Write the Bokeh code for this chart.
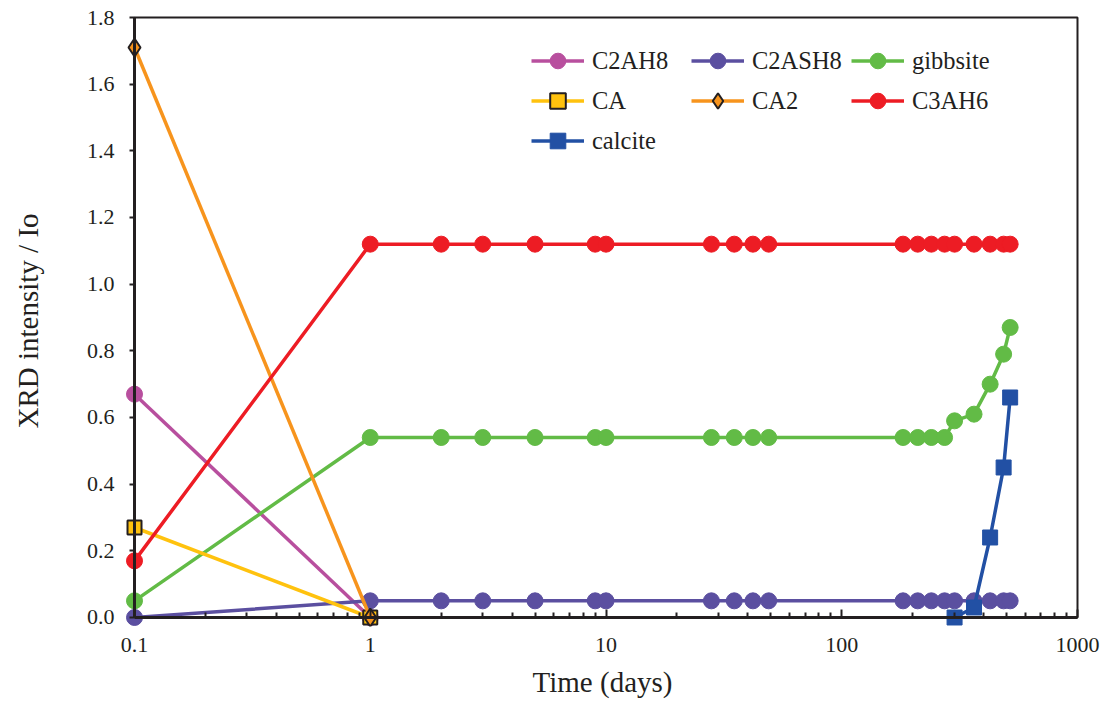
from bokeh.plotting import figure
from bokeh.models import (Legend, LegendItem, FixedTicker, Range1d, BoxAnnotation,
                          LogAxis, LinearAxis)
from bokeh.embed import file_html
from bokeh.resources import INLINE

# ---- data ----
t_early = [0.1, 1]
t_all = [1, 2, 3, 5, 9, 10, 28, 35, 42, 49, 182, 210, 240, 273, 301, 364, 426, 486, 518]
t_full = [0.1] + t_all
t_calcite = [301, 364, 426, 486, 518]

c2ah8 = [0.67, 0.0]
ca = [0.27, 0.0]
ca2 = [1.71, 0.0]
c2ash8 = [0.0] + [0.05] * 19
gibbsite = [0.05, 0.54, 0.54, 0.54, 0.54, 0.54, 0.54, 0.54, 0.54, 0.54, 0.54,
            0.54, 0.54, 0.54, 0.54, 0.59, 0.61, 0.70, 0.79, 0.87]
c3ah6 = [0.17] + [1.12] * 19
calcite = [0.0, 0.03, 0.24, 0.45, 0.66]

x_ticks = [0.1, 1, 10, 100, 1000]
x_tick_labels = ["0.1", "1", "10", "100", "1000"]
y_ticks = [0.0, 0.2, 0.4, 0.6, 0.8, 1.0, 1.2, 1.4, 1.6, 1.8]

FONT = "Liberation Serif"
INK = "#231F20"

# layout: small padding around the data box so edge markers are not clipped
DEC = 235.6          # px per decade
YPX = 333.3          # px per unit
PAD_L, PAD_B, PAD_R, PAD_T = 9, 9, 2, 2
x0 = 10 ** (-1 - PAD_L / DEC)
x1 = 10 ** (3 + PAD_R / DEC)
y0 = 0 - PAD_B / YPX
y1 = 1.8 + PAD_T / YPX

p = figure(width=1104, height=704, x_axis_type="log",
           x_range=Range1d(x0, x1), y_range=Range1d(y0, y1),
           output_backend="svg", toolbar_location=None,
           min_border_left=125, min_border_right=25,
           min_border_top=15, min_border_bottom=78)
p.xgrid.visible = False
p.ygrid.visible = False
p.outline_line_color = None

minor = [d * k for d in x_ticks[:-1] for k in range(2, 10)]
x_ticker = FixedTicker(ticks=x_ticks, minor_ticks=minor)
y_ticker = FixedTicker(ticks=y_ticks)

# default side axes: labels and titles only
p.xaxis.ticker = x_ticker
p.xaxis.major_label_overrides = {v: s for v, s in zip(x_ticks, x_tick_labels)}
p.yaxis.ticker = y_ticker
p.yaxis.major_label_overrides = {v: f"{v:.1f}" for v in y_ticks}
for ax in (p.xaxis, p.yaxis):
    ax.axis_line_color = INK
    ax.axis_line_alpha = 0
    ax.major_tick_line_color = INK
    ax.major_tick_line_alpha = 0
    ax.minor_tick_line_color = INK
    ax.minor_tick_line_alpha = 0
    ax.major_tick_in = 0
    ax.major_tick_out = 0
    ax.minor_tick_in = 0
    ax.minor_tick_out = 0
    ax.major_label_text_font = FONT
    ax.major_label_text_font_size = "22px"
    ax.major_label_text_color = INK
    ax.axis_label_text_font = FONT
    ax.axis_label_text_font_size = "29px"
    ax.axis_label_text_font_style = "normal"
    ax.axis_label_text_color = INK
p.xaxis.major_label_standoff = 11
p.xaxis.axis_label = "Time (days)"
p.xaxis.axis_label_standoff = 11
p.yaxis.major_label_standoff = 11
p.yaxis.axis_label = "XRD intensity / Io"
p.yaxis.axis_label_standoff = 40

# axis rules and ticks placed exactly at x=0.1 and y=0 (labels not drawn)
rule_kw = dict(axis_line_color=INK, axis_line_width=3,
               major_tick_line_color=INK, major_tick_line_width=2,
               major_label_text_font=FONT, major_label_text_font_size="2px",
               major_label_text_color=None, major_label_standoff=0,
               axis_label_text_font=FONT)
rule_x = LogAxis(fixed_location=0, bounds=(0.1, 1000), ticker=x_ticker,
                 minor_tick_line_color=INK, minor_tick_line_width=2,
                 major_tick_in=8, major_tick_out=0,
                 minor_tick_in=5, minor_tick_out=0, **rule_kw)
rule_y = LinearAxis(fixed_location=0.1, bounds=(0, 1.8), ticker=y_ticker,
                    minor_tick_line_color=None,
                    major_tick_in=0, major_tick_out=5, **rule_kw)
p.add_layout(rule_x, "below")
p.add_layout(rule_y, "left")

# frame (top and right sides)
p.add_layout(BoxAnnotation(left=0.1, right=1000, bottom=0, top=1.8,
                           fill_alpha=0, line_color=INK, line_alpha=1,
                           line_width=2, level="underlay"))

LW = 3.5
items = []

def add(label, xs, ys, color, marker, size, fill=None, outline=None):
    lr = p.line(xs, ys, line_color=color, line_width=LW)
    sr = p.scatter(xs, ys, marker=marker, size=size,
                   fill_color=fill or color,
                   line_color=outline or color, line_width=2 if outline else 1)
    items.append(LegendItem(label=label, renderers=[lr, sr]))

add("C2AH8", t_early, c2ah8, "#B84F9E", "circle", 16)
add("C2ASH8", t_full, c2ash8, "#5B4FA0", "circle", 16)
add("gibbsite", t_full, gibbsite, "#62BB46", "circle", 16)
add("CA", t_early, ca, "#FFC20E", "square", 14, fill="#FFC20E", outline=INK)
add("CA2", t_early, ca2, "#F7941D", "diamond", 18, fill="#F7941D", outline=INK)
add("C3AH6", t_full, c3ah6, "#ED1C24", "circle", 16)
add("calcite", t_calcite, calcite, "#2250A4", "square", 15)

legend = Legend(items=items, orientation="horizontal", ncols=3,
                location=(406, 466), background_fill_alpha=0,
                border_line_color=None,
                label_text_font=FONT, label_text_font_size="24.5px",
                label_text_color=INK,
                glyph_width=53, glyph_height=39, label_standoff=8,
                label_width=98, spacing=1, padding=4, margin=0)
p.add_layout(legend, "center")

open("out.html", "w").write(file_html(p, INLINE))
